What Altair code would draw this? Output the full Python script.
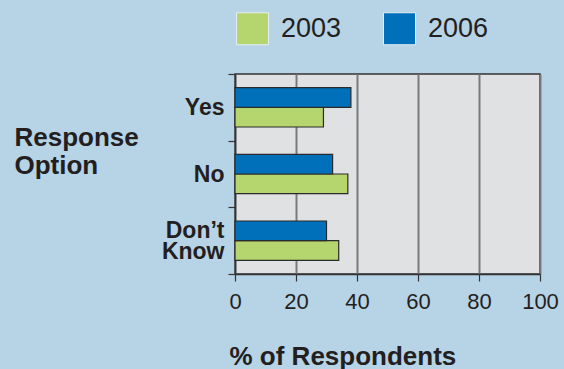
import altair as alt
import pandas as pd

responses = ["Yes", "No", "Don’t Know"]
years = ["2003", "2006"]
values_2003 = [29, 37, 34]
values_2006 = [38, 32, 30]
x_ticks = [0, 20, 40, 60, 80, 100]
colors = ["#b5d56e", "#0070bb"]

rows = []
for i, r in enumerate(responses):
    rows.append({"response": r, "year": "2003", "pct": values_2003[i]})
    rows.append({"response": r, "year": "2006", "pct": values_2006[i]})
df = pd.DataFrame(rows)

FONT = "Liberation Sans"
TXT = "#231f20"
BG = "#b7d3e6"

chart = alt.Chart(df).mark_bar(stroke="#2b2b2b", strokeWidth=1.2).encode(
    x=alt.X(
        "pct:Q",
        scale=alt.Scale(domain=[0, 100], nice=False),
        axis=alt.Axis(
            values=x_ticks,
            title="% of Respondents",
            titleFont=FONT,
            titleFontSize=26,
            titleFontWeight="bold",
            titleColor=TXT,
            titleAnchor="start",
            titleAlign="left",
            titleBaseline="alphabetic",
            titleX=-6,
            titleY=90,
            labelFont=FONT,
            labelFontSize=22,
            labelColor=TXT,
            labelPadding=10,
            labelFlush=False,
            tickSize=7,
            tickColor="#333333",
            tickWidth=1.2,
            domainColor="#333333",
            domainWidth=1.5,
            grid=True,
            gridColor="#7a7a7c",
            gridWidth=2,
        ),
    ),
    y=alt.Y(
        "response:N",
        sort=responses,
        scale=alt.Scale(paddingInner=0, paddingOuter=0),
        axis=alt.Axis(
            title=["Response", "Option"],
            titleFont=FONT,
            titleFontSize=26,
            titleFontWeight="bold",
            titleColor=TXT,
            titleAngle=0,
            titleAlign="left",
            titleBaseline="middle",
            titleX=-221,
            titleY=63,
            titleLineHeight=28,
            labelFont=FONT,
            labelFontSize=23,
            labelFontWeight="bold",
            labelColor=TXT,
            labelPadding=4,
            labelLineHeight=21,
            labelExpr="datum.value == 'Don’t Know' ? ['Don’t', 'Know'] : datum.value",
            labelOffset={"condition": {"test": "datum.value == 'Don’t Know'", "value": -10.5}, "value": 0},
            tickBand="extent",
            tickSize=7,
            tickColor="#333333",
            tickWidth=1.2,
            domainColor="#333333",
            domainWidth=1.5,
            grid=False,
        ),
    ),
    yOffset=alt.YOffset(
        "year:N",
        sort=["2006", "2003"],
        scale=alt.Scale(paddingInner=0, paddingOuter=0.695),
    ),
    color=alt.Color(
        "year:N",
        scale=alt.Scale(domain=years, range=colors),
        legend=alt.Legend(
            title=None,
            orient="none",
            legendX=1,
            legendY=-62,
            direction="horizontal",
            symbolType="square",
            symbolSize=1024,
            symbolStrokeColor="#e6eef4",
            symbolStrokeWidth=1,
            symbolOpacity=1,
            labelFont=FONT,
            labelFontSize=27,
            labelColor=TXT,
            labelOffset=12,
            columnPadding=39,
            padding=0,
        ),
    ),
).properties(
    width=305,
    height=200,
    autosize=alt.AutoSizeParams(type="none"),
    padding={"left": 235, "top": 74, "right": 24, "bottom": 95},
    background=BG,
).configure_view(
    fill="#e0e1e3",
    stroke="#333333",
    strokeWidth=1.5,
)

chart.save(
    "out.html",
    embed_options={
        "renderer": "svg",
        "actions": False,
        "defaultStyle": "html,body{margin:0;padding:0;overflow:hidden;background:" + BG + ";} svg{display:block;}",
    },
)
